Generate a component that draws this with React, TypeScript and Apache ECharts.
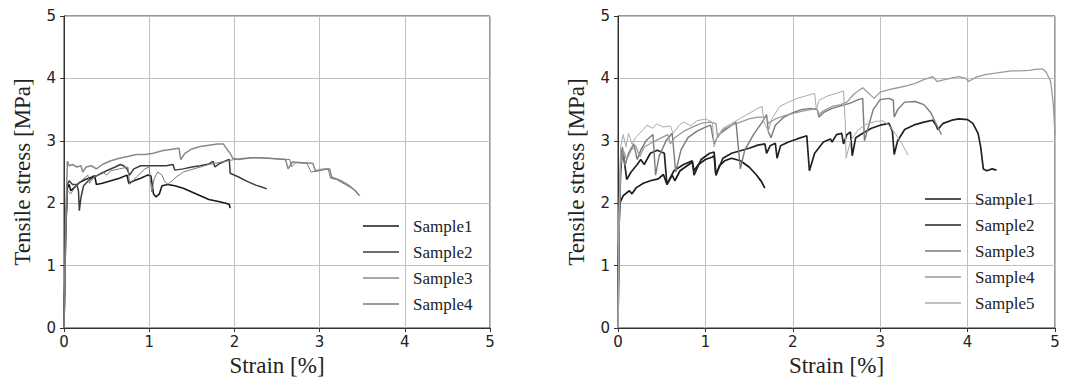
import React, { useEffect, useRef } from "react";
import * as echarts from "echarts";

// ---------- data ----------
const xTicks = [0, 1, 2, 3, 4, 5];
const yTicks = [0, 1, 2, 3, 4, 5];
const leftNames = ["Sample1", "Sample2", "Sample3", "Sample4"];
const rightNames = ["Sample1", "Sample2", "Sample3", "Sample4", "Sample5"];

const L1: number[][] = [[0,0],[0.02,1.6],[0.04,2.25],[0.06,2.3],[0.08,2.2],[0.12,2.25],[0.18,2.33],[0.25,2.38],[0.33,2.42],[0.36,2.44],[0.38,2.3],[0.45,2.32],[0.55,2.36],[0.65,2.4],[0.74,2.45],[0.76,2.32],[0.82,2.36],[0.9,2.4],[0.98,2.45],[1.02,2.44],[1.05,2.15],[1.08,2.1],[1.12,2.15],[1.15,2.28],[1.22,2.3],[1.3,2.28],[1.4,2.24],[1.5,2.18],[1.6,2.12],[1.7,2.06],[1.8,2.03],[1.9,2.0],[1.94,1.98],[1.95,1.92]];
const L2: number[][] = [[0,0],[0.02,1.5],[0.04,2.3],[0.06,2.36],[0.1,2.3],[0.15,2.3],[0.17,2.2],[0.18,1.88],[0.2,2.1],[0.23,2.28],[0.3,2.38],[0.4,2.45],[0.5,2.52],[0.6,2.58],[0.66,2.62],[0.7,2.6],[0.74,2.55],[0.77,2.45],[0.82,2.55],[0.9,2.6],[1.0,2.6],[1.1,2.6],[1.2,2.6],[1.28,2.62],[1.3,2.53],[1.4,2.55],[1.5,2.58],[1.6,2.6],[1.7,2.63],[1.75,2.67],[1.77,2.58],[1.82,2.63],[1.9,2.68],[1.94,2.7],[1.95,2.48],[2.05,2.42],[2.15,2.35],[2.25,2.29],[2.32,2.26],[2.38,2.23]];
const L3: number[][] = [[0,0],[0.02,1.8],[0.04,2.67],[0.06,2.6],[0.1,2.62],[0.15,2.58],[0.2,2.6],[0.22,2.5],[0.26,2.58],[0.32,2.6],[0.38,2.55],[0.45,2.62],[0.55,2.68],[0.65,2.72],[0.75,2.75],[0.85,2.78],[0.95,2.78],[1.05,2.8],[1.15,2.84],[1.25,2.86],[1.35,2.88],[1.37,2.7],[1.42,2.8],[1.5,2.87],[1.6,2.91],[1.7,2.93],[1.8,2.95],[1.87,2.95],[1.92,2.85],[1.95,2.8],[1.98,2.72],[2.05,2.7],[2.2,2.73],[2.4,2.72],[2.6,2.7],[2.63,2.55],[2.68,2.66],[2.8,2.65],[2.92,2.64],[2.95,2.52],[3.05,2.55],[3.12,2.55],[3.14,2.42],[3.25,2.36],[3.35,2.28],[3.42,2.2],[3.47,2.12]];
const L4: number[][] = [[0,0],[0.02,1.5],[0.04,2.2],[0.08,2.15],[0.15,2.3],[0.22,2.38],[0.28,2.45],[0.3,2.32],[0.35,2.42],[0.45,2.5],[0.5,2.45],[0.55,2.52],[0.65,2.55],[0.75,2.58],[0.77,2.3],[0.85,2.42],[0.95,2.55],[1.0,2.58],[1.02,2.3],[1.03,2.18],[1.06,2.4],[1.1,2.5],[1.15,2.45],[1.18,2.35],[1.22,2.3],[1.3,2.4],[1.4,2.5],[1.55,2.56],[1.7,2.62],[1.85,2.66],[2.0,2.7],[2.1,2.72],[2.3,2.73],[2.5,2.71],[2.65,2.7],[2.67,2.58],[2.72,2.65],[2.85,2.64],[2.9,2.5],[3.0,2.52],[3.1,2.55],[3.13,2.4],[3.2,2.38],[3.3,2.3],[3.4,2.22],[3.46,2.13]];

const R1: number[][] = [[0,0],[0.01,1.5],[0.02,2.0],[0.06,2.12],[0.13,2.2],[0.16,2.15],[0.21,2.25],[0.29,2.32],[0.37,2.36],[0.46,2.39],[0.52,2.46],[0.56,2.3],[0.62,2.45],[0.65,2.36],[0.71,2.52],[0.77,2.58],[0.85,2.66],[0.87,2.52],[0.92,2.62],[1.0,2.7],[1.08,2.74],[1.1,2.76],[1.12,2.45],[1.16,2.6],[1.22,2.68],[1.3,2.72],[1.4,2.68],[1.5,2.58],[1.58,2.46],[1.64,2.35],[1.68,2.24]];
const R2: number[][] = [[0,0],[0.01,1.6],[0.03,2.5],[0.05,2.85],[0.07,2.7],[0.1,2.38],[0.15,2.5],[0.22,2.62],[0.26,2.7],[0.3,2.62],[0.37,2.8],[0.45,2.85],[0.53,2.8],[0.56,2.3],[0.64,2.52],[0.75,2.62],[0.85,2.68],[0.87,2.45],[0.95,2.7],[1.05,2.8],[1.1,2.82],[1.12,2.45],[1.2,2.72],[1.3,2.8],[1.4,2.84],[1.5,2.88],[1.6,2.93],[1.68,2.95],[1.7,2.8],[1.74,2.92],[1.8,2.96],[1.82,2.72],[1.86,2.92],[1.95,2.98],[2.05,3.03],[2.16,3.08],[2.19,2.52],[2.25,2.8],[2.35,2.98],[2.43,3.03],[2.45,2.98],[2.5,3.1],[2.56,3.12],[2.58,2.95],[2.62,3.1],[2.66,3.14],[2.68,2.76],[2.72,3.05],[2.8,3.12],[2.9,3.2],[3.0,3.25],[3.1,3.28],[3.14,3.15],[3.16,2.78],[3.2,3.0],[3.28,3.18],[3.4,3.26],[3.5,3.3],[3.6,3.33],[3.64,3.25],[3.66,3.18],[3.72,3.28],[3.82,3.33],[3.9,3.35],[4.0,3.34],[4.06,3.28],[4.12,3.12],[4.15,2.9],[4.18,2.55],[4.22,2.52],[4.28,2.55],[4.33,2.53]];
const R3: number[][] = [[0,0],[0.01,1.6],[0.03,2.7],[0.05,2.9],[0.08,2.6],[0.12,2.8],[0.18,2.95],[0.22,2.7],[0.26,2.85],[0.32,3.0],[0.4,3.1],[0.43,2.45],[0.47,2.75],[0.55,3.0],[0.62,3.12],[0.66,2.5],[0.72,2.85],[0.8,3.05],[0.9,3.15],[1.0,3.22],[1.06,3.25],[1.1,2.95],[1.15,3.1],[1.25,3.2],[1.35,3.3],[1.4,2.55],[1.45,2.85],[1.55,3.1],[1.65,3.3],[1.7,3.42],[1.72,3.15],[1.75,3.05],[1.8,3.25],[1.9,3.38],[2.0,3.45],[2.1,3.5],[2.2,3.52],[2.28,3.5],[2.3,3.38],[2.35,3.45],[2.45,3.52],[2.55,3.56],[2.65,3.6],[2.75,3.66],[2.8,3.68],[2.82,3.0],[2.86,3.2],[2.92,3.5],[3.0,3.66],[3.1,3.68],[3.15,3.65],[3.16,3.38],[3.2,3.5],[3.28,3.62],[3.4,3.63],[3.5,3.58],[3.58,3.45],[3.63,3.3],[3.7,3.1]];
const R4: number[][] = [[0,0],[0.01,1.5],[0.03,2.6],[0.06,2.85],[0.1,2.7],[0.15,2.85],[0.2,2.92],[0.25,2.75],[0.3,2.9],[0.4,2.98],[0.5,3.05],[0.57,3.1],[0.6,2.95],[0.65,3.05],[0.75,3.15],[0.85,3.22],[0.95,3.28],[1.05,3.3],[1.12,3.28],[1.14,3.05],[1.2,3.18],[1.3,3.25],[1.4,3.3],[1.5,3.35],[1.6,3.38],[1.7,3.38],[1.72,3.28],[1.8,3.35],[1.9,3.4],[2.0,3.44],[2.1,3.47],[2.2,3.5],[2.27,3.52],[2.3,3.42],[2.35,3.48],[2.45,3.55],[2.55,3.58],[2.62,3.62],[2.7,3.75],[2.8,3.85],[2.9,3.72],[2.93,3.68],[3.0,3.78],[3.1,3.82],[3.2,3.85],[3.3,3.88],[3.4,3.92],[3.5,3.98],[3.6,4.03],[3.65,3.95],[3.7,3.97],[3.8,4.0],[3.9,4.03],[3.98,4.0],[4.01,3.95],[4.1,4.02],[4.2,4.06],[4.3,4.08],[4.4,4.1],[4.5,4.12],[4.6,4.12],[4.7,4.13],[4.8,4.15],[4.86,4.15],[4.9,4.1],[4.95,3.95],[4.98,3.6],[5.0,3.1]];
const R5: number[][] = [[0,0],[0.01,1.8],[0.03,2.9],[0.06,3.1],[0.09,2.9],[0.12,3.12],[0.16,2.95],[0.2,3.05],[0.29,3.18],[0.33,3.25],[0.4,3.2],[0.44,3.27],[0.52,3.22],[0.6,3.24],[0.63,3.12],[0.7,3.25],[0.75,3.3],[0.83,3.24],[0.9,3.32],[1.0,3.35],[1.08,3.3],[1.1,2.9],[1.13,3.05],[1.2,3.2],[1.3,3.28],[1.4,3.36],[1.5,3.44],[1.6,3.52],[1.65,3.55],[1.67,3.3],[1.72,3.15],[1.76,3.35],[1.85,3.55],[1.95,3.62],[2.05,3.68],[2.15,3.72],[2.25,3.76],[2.27,3.5],[2.3,3.65],[2.4,3.72],[2.5,3.76],[2.58,3.8],[2.6,3.3],[2.61,2.72],[2.66,3.0],[2.75,3.18],[2.85,3.27],[2.95,3.31],[3.03,3.32],[3.1,3.25],[3.18,3.1],[3.25,2.95],[3.32,2.77]];

const leftData = [L1, L2, L3, L4];
const rightData = [R1, R2, R3, R4, R5];

// ---------- styles ----------
const leftColors = ["#1a1a1a", "#3c3c3c", "#8a8a8a", "#7a7a7a"];
const leftWidths = [1.6, 1.5, 1.5, 1.0];
const rightColors = ["#1a1a1a", "#222222", "#7a7a7a", "#9a9a9a", "#aaaaaa"];
const rightWidths = [1.7, 1.7, 1.4, 1.3, 1.0];

const SERIF = "'Liberation Serif', 'Times New Roman', serif";
const SANS = "'DejaVu Sans', sans-serif";

function makeAxes(gridIndex: number) {
  const common = {
    type: "value" as const,
    gridIndex,
    min: 0,
    max: 5,
    interval: 1,
    axisLine: { show: true, lineStyle: { color: "#333", width: 1 } },
    axisTick: { show: true, length: 4, lineStyle: { color: "#333" } },
    splitLine: { show: true, lineStyle: { color: "#c0c0c0", width: 1 } },
    nameLocation: "middle" as const,
    nameTextStyle: { fontFamily: SERIF, fontSize: 23, color: "#222" },
  };
  return {
    x: {
      ...common,
      name: "Strain [%]",
      nameGap: 26,
      axisLabel: {
        fontFamily: SANS, fontSize: 15, color: "#222", margin: 6,
        formatter: (v: number) => (xTicks.includes(v) ? String(v) : ""),
      },
    },
    y: {
      ...common,
      name: "Tensile stress [MPa]",
      nameGap: 30,
      axisLabel: {
        fontFamily: SANS, fontSize: 15, color: "#222", margin: 8,
        formatter: (v: number) => (yTicks.includes(v) ? String(v) : ""),
      },
    },
  };
}

export default function App() {
  const ref = useRef<HTMLDivElement>(null);
  useEffect(() => {
    if (!ref.current) return;
    const chart = echarts.init(ref.current, undefined, { renderer: "svg" });
    const a0 = makeAxes(0);
    const a1 = makeAxes(1);
    const series: any[] = [];
    leftData.forEach((d, i) => {
      series.push({
        type: "line", name: "L:" + leftNames[i], data: d, xAxisIndex: 0, yAxisIndex: 0,
        symbol: "none", showSymbol: false, silent: true,
        lineStyle: { color: leftColors[i], width: leftWidths[i] }, itemStyle: { color: leftColors[i] },
      });
    });
    rightData.forEach((d, i) => {
      series.push({
        type: "line", name: "R:" + rightNames[i], data: d, xAxisIndex: 1, yAxisIndex: 1,
        symbol: "none", showSymbol: false, silent: true,
        lineStyle: { color: rightColors[i], width: rightWidths[i] }, itemStyle: { color: rightColors[i] },
      });
    });
    const legendCommon = {
      orient: "vertical" as const,
      icon: "rect",
      itemWidth: 36,
      itemHeight: 1.5,
      itemGap: 9,
      selectedMode: false,
      formatter: (n: string) => n.slice(2),
      textStyle: { fontFamily: SERIF, fontSize: 17, color: "#222", padding: [0, 0, 0, 9] },
    };
    chart.setOption({
      animation: false,
      backgroundColor: "#fff",
      grid: [
        { left: 64, top: 16, width: 426, height: 312, show: true, borderColor: "#333", borderWidth: 1, backgroundColor: "transparent" },
        { left: 618, top: 16, width: 437, height: 312, show: true, borderColor: "#333", borderWidth: 1, backgroundColor: "transparent" },
      ],
      xAxis: [a0.x, a1.x],
      yAxis: [a0.y, a1.y],
      legend: [
        { ...legendCommon, left: 358, top: 212.5, data: leftNames.map((n) => "L:" + n) },
        { ...legendCommon, left: 920, top: 185.5, data: rightNames.map((n) => "R:" + n) },
      ],
      series,
    });
    return () => chart.dispose();
  }, []);
  return (
    <div
      ref={ref}
      style={{ position: "fixed", left: 0, top: 0, width: 1067, height: 386, background: "#fff" }}
    />
  );
}
